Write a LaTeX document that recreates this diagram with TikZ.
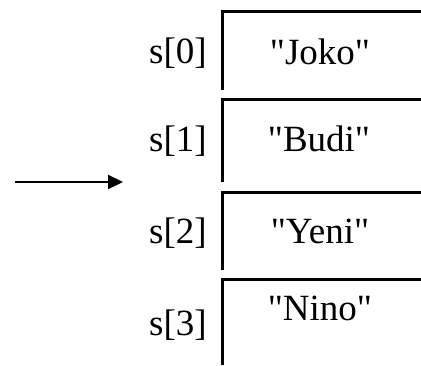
\documentclass[tikz,border=0pt]{standalone}
\usepackage{fontspec}
\setmainfont{Liberation Serif}[Ligatures=TeXOff]
\usetikzlibrary{arrows.meta}
\begin{document}
\begin{tikzpicture}[x=1pt,y=1pt,
  cellline/.style={line width=3pt},
  idx/.style={anchor=base,inner sep=0pt,font=\fontsize{37}{42}\selectfont},
  val/.style={anchor=base,inner sep=0pt,font=\fontsize{37}{42}\selectfont},
  pointer/.style={line width=2pt,-{Triangle[length=15pt,width=14pt]}}]
  \useasboundingbox (0,0) rectangle (421,365);
  % array cells: top edge and left edge of each slot
  \foreach \top/\bot in {353/275, 265/183, 173/95, 86/0}{
    \draw[cellline] (222,\bot) -- (222,\top) -- (421,\top);
  }
  % index labels
  \node[idx] (s0) at (178,301) {s[0]};
  \node[idx] (s1) at (178,213) {s[1]};
  \node[idx] (s2) at (178,122) {s[2]};
  \node[idx] (s3) at (178,30) {s[3]};
  % stored strings
  \node[val] (v0) at (320,300) {"Joko"};
  \node[val] (v1) at (319,213) {"Budi"};
  \node[val] (v2) at (320,122) {"Yeni"};
  \node[val] (v3) at (320,45) {"Nino"};
  % pointer arrow
  \coordinate (ptrtail) at (15,183);
  \coordinate (ptrhead) at (123,183);
  \draw[pointer] (ptrtail) -- (ptrhead);
\end{tikzpicture}
\end{document}
